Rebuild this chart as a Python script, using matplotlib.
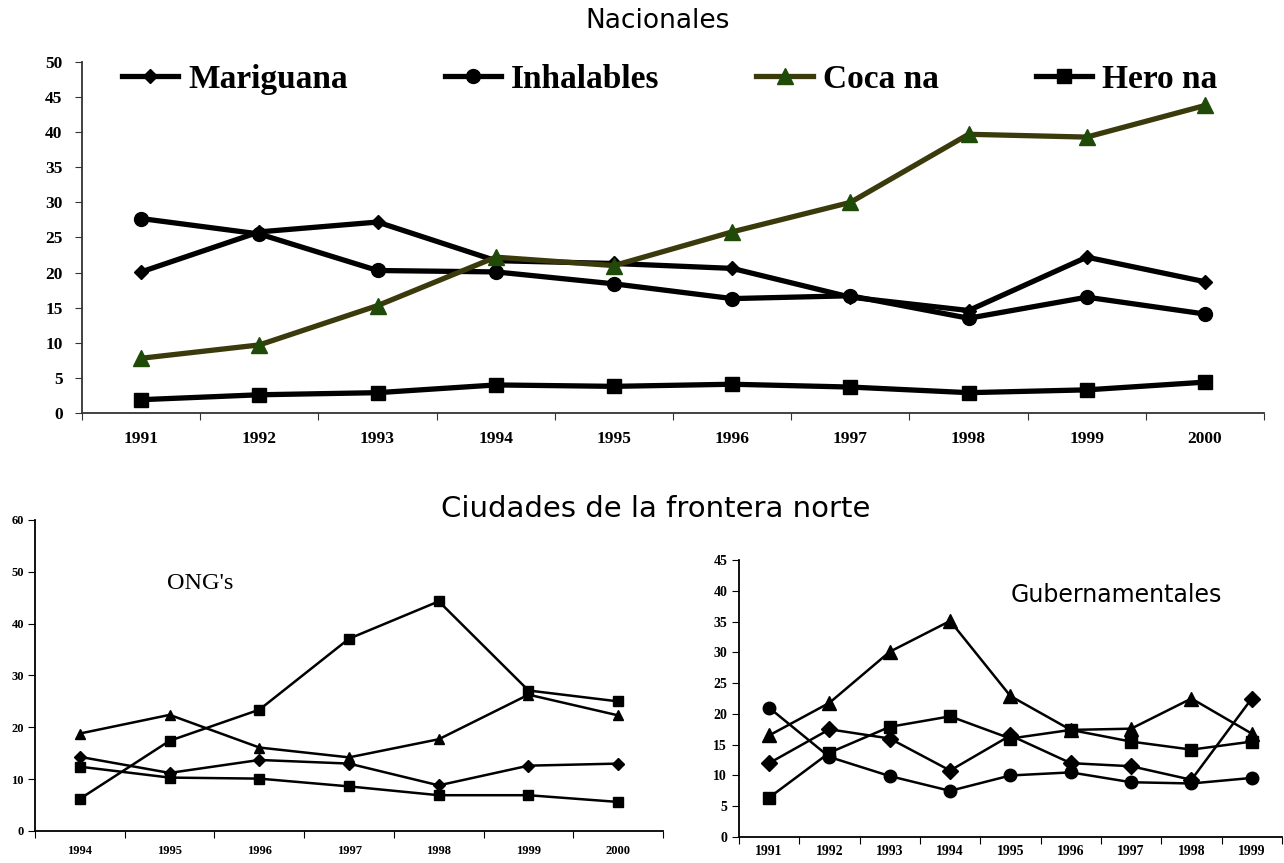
import numpy as np
import matplotlib
matplotlib.use("Agg")
from matplotlib import pyplot as plt

# datos nacionales
anios_nac = ["1991", "1992", "1993", "1994", "1995", "1996", "1997", "1998", "1999", "2000"]
mariguana = [20.1, 25.8, 27.2, 21.7, 21.3, 20.6, 16.5, 14.6, 22.2, 18.7]
inhalables = [27.7, 25.5, 20.3, 20.1, 18.4, 16.3, 16.7, 13.5, 16.5, 14.1]
cocaina = [7.8, 9.7, 15.3, 22.2, 21.0, 25.8, 30.0, 39.7, 39.3, 43.8]
heroina = [1.9, 2.6, 2.9, 4.0, 3.8, 4.1, 3.7, 2.9, 3.3, 4.4]
etiquetas = ["Mariguana", "Inhalables", "Coca na", "Hero na"]

# ONG's (frontera norte)
anios_ong = ["1994", "1995", "1996", "1997", "1998", "1999", "2000"]
ong_a = [6.2, 17.4, 23.4, 37.1, 44.3, 27.1, 25.0]
ong_tri = [18.8, 22.4, 16.1, 14.2, 17.7, 26.3, 22.3]
ong_dia = [14.3, 11.2, 13.7, 13.0, 8.8, 12.6, 13.0]
ong_b = [12.4, 10.3, 10.1, 8.6, 6.9, 6.9, 5.6]

# Gubernamentales
anios_gub = ["1991", "1992", "1993", "1994", "1995", "1996", "1997", "1998", "1999"]
gub_tri = [16.5, 21.8, 30.1, 35.1, 22.9, 17.4, 17.6, 22.5, 16.8]
gub_dia = [12.0, 17.5, 16.0, 10.8, 16.5, 12.0, 11.5, 9.3, 22.5]
gub_sq = [6.4, 13.7, 17.9, 19.6, 16.0, 17.4, 15.5, 14.2, 15.5]
gub_cir = [21.0, 13.0, 9.9, 7.5, 10.0, 10.5, 8.9, 8.7, 9.6]

SERIF = ["Liberation Serif", "DejaVu Serif"]
SANS = ["DejaVu Sans"]


def ejes_categorias(ax, labels, fs, color="black"):
    n = len(labels)
    x = np.arange(n)
    ax.set_xlim(-0.5, n - 0.5)
    ax.set_xticks(np.arange(n + 1) - 0.5)
    ax.set_xticklabels([])
    ax.set_xticks(x, minor=True)
    ax.set_xticklabels(labels, minor=True, fontsize=fs, fontweight="bold", family=SERIF)
    ax.tick_params(axis="x", which="minor", length=0, pad=10)
    ax.tick_params(axis="x", which="major", length=5, direction="out", color=color)
    ax.tick_params(axis="y", length=5, direction="out", color=color)
    for lab in ax.get_yticklabels():
        lab.set_fontweight("bold")
        lab.set_family(SERIF)
        lab.set_fontsize(fs)
    for s in ["top", "right"]:
        ax.spines[s].set_visible(False)
    for s in ["left", "bottom"]:
        ax.spines[s].set_color(color)
        ax.spines[s].set_linewidth(1.3)
    return x


fig = plt.figure(figsize=(12.84, 8.63), dpi=100)

# --- Nacionales ---
ax1 = fig.add_axes([0.0639, 0.5214, 0.9206, 0.4068])
x = np.arange(len(anios_nac))
ax1.plot(x, mariguana, color="black", lw=3.8, marker="D", ms=7, label=etiquetas[0])
ax1.plot(x, inhalables, color="black", lw=3.8, marker="o", ms=10, label=etiquetas[1])
ax1.plot(x, cocaina, color="#3a3a0c", lw=3.8, marker="^", ms=11,
         mfc="#1f4a08", mec="#1f4a08", label=etiquetas[2])
ax1.plot(x, heroina, color="black", lw=3.8, marker="s", ms=10, label=etiquetas[3])
ax1.set_ylim(0, 50)
ax1.set_yticks(range(0, 51, 5))
ejes_categorias(ax1, anios_nac, 12.5, color="#333333")
ax1.tick_params(axis="x", which="minor", pad=13)
ax1.tick_params(axis="y", pad=9)
leg = ax1.legend(loc="center", bbox_to_anchor=(0.497, 0.95), ncol=4, frameon=False,
                 prop={"family": SERIF, "weight": "bold", "size": 24},
                 handlelength=1.7, handletextpad=0.3, columnspacing=2.9)

fig.text(0.512, 0.976, "Nacionales", ha="center", va="center", fontsize=19, family=SANS)
fig.text(0.511, 0.41, "Ciudades de la frontera norte", ha="center", va="center",
         fontsize=21, family=SANS)

# --- ONG's ---
ax2 = fig.add_axes([0.0273, 0.0371, 0.4891, 0.3604])
x = np.arange(len(anios_ong))
ax2.plot(x, ong_a, color="black", lw=1.8, marker="s", ms=7)
ax2.plot(x, ong_tri, color="black", lw=1.8, marker="^", ms=7)
ax2.plot(x, ong_dia, color="black", lw=1.8, marker="D", ms=6)
ax2.plot(x, ong_b, color="black", lw=1.8, marker="s", ms=7)
ax2.set_ylim(0, 60)
ax2.set_yticks(range(0, 61, 10))
ejes_categorias(ax2, anios_ong, 9)
ax2.tick_params(axis="y", pad=3)
ax2.text(0.21, 0.795, "ONG's", transform=ax2.transAxes, ha="left", va="center",
         fontsize=17.5, family=SERIF)

# --- Gubernamentales ---
ax3 = fig.add_axes([0.5755, 0.0301, 0.4229, 0.3210])
x = np.arange(len(anios_gub))
ax3.plot(x, gub_tri, color="black", lw=1.8, marker="^", ms=10)
ax3.plot(x, gub_dia, color="black", lw=1.8, marker="D", ms=8)
ax3.plot(x, gub_sq, color="black", lw=1.8, marker="s", ms=8)
ax3.plot(x, gub_cir, color="black", lw=1.8, marker="o", ms=9)
ax3.set_ylim(0, 45)
ax3.set_yticks(range(0, 46, 5))
ejes_categorias(ax3, anios_gub, 10)
ax3.tick_params(axis="x", which="minor", pad=6)
ax3.text(0.5, 0.875, "Gubernamentales", transform=ax3.transAxes, ha="left", va="center",
         fontsize=17, family=SANS)

plt.savefig("out.png", dpi=100)
